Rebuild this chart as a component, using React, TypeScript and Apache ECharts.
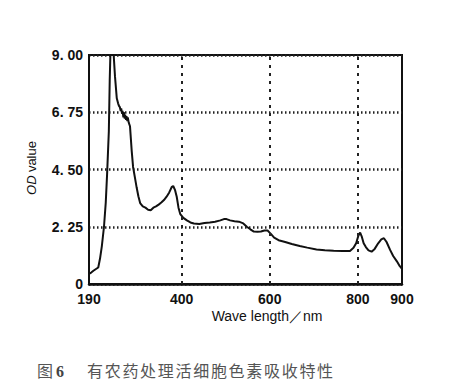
import React, { useEffect, useRef } from "react";
import * as echarts from "echarts";

const wavelength = [
  190, 195, 200, 205, 211, 215, 219, 224, 228, 231, 235, 237, 238.5, 246, 249, 253, 256, 258, 260, 262,
  263, 265, 266, 268, 269, 271, 272, 274, 275, 277, 278, 280, 283, 287, 290, 294, 298, 302, 306, 312,
  318, 324, 330, 336, 342, 348, 354, 360, 366, 372, 378, 381, 385, 389, 393, 397, 404, 412, 420, 428,
  440, 452, 464, 476, 488, 496, 502, 510, 520, 530, 540, 548, 556, 564, 572, 580, 588, 595, 602, 610,
  620, 635, 650, 668, 685, 706, 725, 745, 765, 782, 790, 796, 801, 805, 809, 813, 818, 824, 831, 838,
  846, 853, 859, 865, 873, 880, 888, 895, 900,
];
const odValue = [
  0.4, 0.45, 0.52, 0.58, 0.65, 1.0, 1.47, 2.25, 3.2, 4.3, 6.0, 8.0, 9.0, 9.0, 8.15, 7.3, 7.1, 7.0, 6.95, 6.8,
  6.9, 6.7, 6.8, 6.55, 6.75, 6.5, 6.65, 6.45, 6.6, 6.4, 6.55, 6.35, 6.2, 5.2, 4.6, 4.2, 3.8, 3.45, 3.18, 3.05,
  3.0, 2.92, 2.9, 3.0, 3.05, 3.12, 3.2, 3.3, 3.43, 3.6, 3.82, 3.85, 3.7, 3.43, 3.0, 2.75, 2.6, 2.5, 2.42, 2.38,
  2.36, 2.4, 2.42, 2.45, 2.5, 2.55, 2.55, 2.5, 2.47, 2.45, 2.38, 2.25, 2.15, 2.06, 2.05, 2.06, 2.1, 2.1, 1.98, 1.82,
  1.72, 1.65, 1.57, 1.49, 1.43, 1.36, 1.33, 1.31, 1.3, 1.3, 1.42, 1.6, 1.9, 2.02, 1.85, 1.6, 1.45, 1.32, 1.27, 1.38,
  1.6, 1.75, 1.8, 1.65, 1.34, 1.1, 0.9, 0.7, 0.6,
];
const xTickLabels = [190, 400, 600, 800, 900];
const xGridLines = [400, 600, 800];
const captionPrefix = "图";
const captionNumber = "6";
const captionText = "有农药处理活细胞色素吸收特性";
const xAxisName = "Wave length／nm";

export default function App() {
  const ref = useRef<HTMLDivElement>(null);
  useEffect(() => {
    if (!ref.current) return;
    const chart = echarts.init(ref.current, null, { renderer: "svg" });
    const captionChars = captionText.split("").map((c, i) => ({
      type: "text",
      left: 87 + i * 17.7,
      top: 362,
      style: {
        text: c,
        fontSize: 16,
        fontFamily: "Noto Sans CJK SC",
        fill: "#555",
      },
    }));
    chart.setOption({
      animation: false,
      backgroundColor: "#fff",
      grid: {
        left: 89,
        right: 59,
        top: 55,
        bottom: 103,
        show: true,
        borderColor: "#111",
        borderWidth: 2,
      },
      xAxis: {
        type: "value",
        min: 190,
        max: 900,
        axisLine: { show: true, lineStyle: { color: "#111", width: 2.5 } },
        axisTick: { show: false },
        splitLine: { show: false },
        axisLabel: {
          customValues: xTickLabels,
          margin: 8,
          fontSize: 14,
          fontWeight: "bold",
          fontFamily: "Liberation Sans, Arial, sans-serif",
          color: "#111",
        },
      },
      yAxis: {
        type: "value",
        min: 0,
        max: 9,
        interval: 2.25,
        axisLine: { show: true, lineStyle: { color: "#111", width: 1.5 } },
        axisTick: { show: false },
        splitLine: {
          show: true,
          lineStyle: { color: "#222", width: 2.5, type: [1.5, 2.5] },
        },
        axisLabel: {
          margin: 6,
          fontSize: 14,
          fontWeight: "bold",
          fontFamily: "Liberation Sans, Arial, sans-serif",
          color: "#111",
          formatter: (v: number) => (v === 0 ? "0" : v.toFixed(2).replace(".", ". ")),
        },
      },
      series: [
        {
          type: "line",
          data: wavelength.map((w, i) => [w, odValue[i]]),
          showSymbol: false,
          lineStyle: { color: "#111", width: 2 },
          clip: true,
          markLine: {
            silent: true,
            symbol: "none",
            label: { show: false },
            lineStyle: { color: "#222", width: 2, type: [3, 5] },
            data: xGridLines.map((x) => ({ xAxis: x })),
          },
        },
      ],
      graphic: [
        {
          type: "text",
          x: 267,
          y: 316,
          style: {
            text: xAxisName,
            fontSize: 14,
            fontFamily: "Liberation Sans, Arial, sans-serif",
            fill: "#111",
            align: "center",
            verticalAlign: "middle",
          },
        },
        {
          type: "text",
          x: 31,
          y: 168,
          rotation: Math.PI / 2,
          style: {
            text: "{i|OD} {n|value}",
            align: "center",
            verticalAlign: "middle",
            fill: "#111",
            rich: {
              i: { fontSize: 13, fontStyle: "italic", fontFamily: "Liberation Sans, Arial, sans-serif", fill: "#111" },
              n: { fontSize: 13, fontFamily: "Liberation Sans, Arial, sans-serif", fill: "#111" },
            },
          },
        },
        {
          type: "text",
          left: 37,
          top: 362,
          style: { text: captionPrefix, fontSize: 16, fontFamily: "Noto Sans CJK SC", fill: "#555" },
        },
        {
          type: "text",
          left: 56,
          top: 363,
          style: {
            text: captionNumber,
            fontSize: 16,
            fontWeight: "bold",
            fontFamily: "Liberation Serif, DejaVu Serif, serif",
            fill: "#444",
          },
        },
        ...captionChars,
      ],
    });
    return () => chart.dispose();
  }, []);
  return (
    <div
      ref={ref}
      style={{ position: "fixed", left: 0, top: 0, width: 461, height: 387 }}
    />
  );
}
